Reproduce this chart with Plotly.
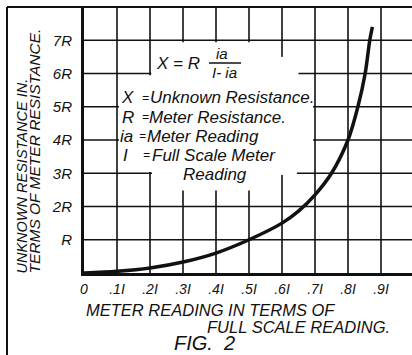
import plotly.graph_objects as go

# readings: meter reading (fraction of I) vs unknown resistance (in R)
meter_reading = [0, 0.1, 0.2, 0.3, 0.4, 0.5, 0.6, 0.65, 0.7, 0.75, 0.8, 0.83, 0.852, 0.866, 0.874]
unknown_res = [0, 0.05, 0.15, 0.33, 0.6, 1.0, 1.5, 1.86, 2.35, 3.0, 4.0, 5.0, 6.0, 7.0, 7.4]

x_ticks = [0, 0.1, 0.2, 0.3, 0.4, 0.5, 0.6, 0.7, 0.8, 0.9]
x_labels = ["0", ".1I", ".2I", ".3I", ".4I", ".5I", ".6I", ".7I", ".8I", ".9I"]
y_ticks = [1, 2, 3, 4, 5, 6, 7]
y_labels = ["R", "2R", "3R", "4R", "5R", "6R", "7R"]

W, H = 412, 355
L, R_, T, B = 84, 0, 7, 82
X_MAX = (W - L) / 330
Y_MAX = 8
FONT = "Liberation Sans"
INK = "#111111"


def px(x):
    return (x - L) / (W - L - R_)


def py(y):
    return (H - B - y) / (H - T - B)


def ital(size):
    return dict(family=FONT, size=size, color=INK, style="italic")


fig = go.Figure(
    go.Scatter(
        x=meter_reading,
        y=unknown_res,
        mode="lines",
        line=dict(color=INK, width=3.5, shape="spline", smoothing=0.9),
        hoverinfo="skip",
    )
)

grid = dict(color=INK, width=1.6)
shapes = [
    dict(type="line", xref="x", yref="y", x0=v, x1=v, y0=0, y1=Y_MAX, line=grid, layer="below")
    for v in x_ticks[1:]
]
shapes += [
    dict(type="line", xref="x", yref="y", x0=0, x1=X_MAX, y0=v, y1=v, line=grid, layer="below")
    for v in y_ticks
]
# white patch behind the legend text (the grid is interrupted there)
for x0, x1, y0, y1 in [
    (0.204, 0.597, 5.9, 6.94),
    (0.59, 0.65, 5.9, 6.5),
    (0.59, 0.694, 3.04, 5.95),
    (0.59, 0.694, 6.05, 6.5),
    (0.106, 0.694, 3.04, 5.95),
    (0.206, 0.594, 2.48, 3.1),
    (0.59, 0.645, 2.95, 3.1),
]:
    shapes.append(dict(type="rect", xref="x", yref="y", x0=x0, x1=x1, y0=y0, y1=y1,
                       fillcolor="white", line=dict(width=0), layer="below"))
shapes += [
    # outer frame
    dict(type="line", xref="paper", yref="paper", x0=px(7), x1=1.02, y0=1, y1=1,
         line=dict(color=INK, width=2)),
    dict(type="line", xref="paper", yref="paper", x0=px(7), x1=px(7), y0=1, y1=py(356),
         line=dict(color=INK, width=2)),
    # fraction bar
    dict(type="line", xref="paper", yref="paper", x0=px(209), x1=px(241), y0=py(63), y1=py(63),
         line=dict(color=INK, width=1.5)),
]

notes = [
    ("X = R", 154, 63, 17, "left"),
    ("ia", 222, 54, 15, "center"),
    ("I- ia", 224, 72, 15, "center"),
    ("X", 119, 98, 17, "left"),
    ("=", 140, 98, 12, "left"),
    ("Unknown Resistance.", 148, 98, 17, "left"),
    ("R", 120, 117, 17, "left"),
    ("=", 140, 117, 12, "left"),
    ("Meter Resistance.", 147, 117, 17, "left"),
    ("ia", 118, 136, 17, "left"),
    ("=", 137, 136, 12, "left"),
    ("Meter Reading", 145, 136, 17, "left"),
    ("I", 121, 155, 17, "left"),
    ("=", 141, 155, 12, "left"),
    ("Full Scale Meter", 150, 155, 17, "left"),
    ("Reading", 181, 174, 17, "left"),
    ("METER READING IN TERMS OF", 84, 310, 16.5, "left"),
    ("FULL SCALE READING.", 205, 327, 16.5, "left"),
    ("FIG.&nbsp;&nbsp;2", 172, 343, 20, "left"),
]
annotations = [
    dict(text=t, x=px(x), y=py(y), xref="paper", yref="paper", xanchor=a, yanchor="middle",
         showarrow=False, font=ital(s))
    for t, x, y, s, a in notes
]
annotations += [
    dict(text="UNKNOWN RESISTANCE IN.", x=px(21), y=py(276), xref="paper", yref="paper",
         xanchor="center", yanchor="bottom", textangle=-90, showarrow=False, font=ital(14.5)),
    dict(text="TERMS OF METER RESISTANCE.", x=px(34), y=py(276), xref="paper", yref="paper",
         xanchor="center", yanchor="bottom", textangle=-90, showarrow=False, font=ital(15.5)),
]

fig.update_layout(
    width=W,
    height=H,
    margin=dict(l=L, r=R_, t=T, b=B, pad=0),
    paper_bgcolor="white",
    plot_bgcolor="white",
    showlegend=False,
    shapes=shapes,
    annotations=annotations,
    xaxis=dict(
        range=[0, X_MAX],
        tickvals=x_ticks,
        ticktext=x_labels,
        tickfont=ital(14),
        showgrid=False,
        zeroline=False,
        showline=True,
        linecolor=INK,
        linewidth=3,
        ticks="",
        ticklabelstandoff=1,
        fixedrange=True,
    ),
    yaxis=dict(
        range=[0, Y_MAX],
        tickvals=y_ticks,
        ticktext=y_labels,
        tickfont=ital(15),
        showgrid=False,
        zeroline=False,
        showline=True,
        linecolor=INK,
        linewidth=3,
        ticks="",
        ticklabelstandoff=6,
        fixedrange=True,
    ),
)

fig.write_html(
    "out.html",
    config={"displayModeBar": False},
    post_script="document.body.style.margin='0';",
)
